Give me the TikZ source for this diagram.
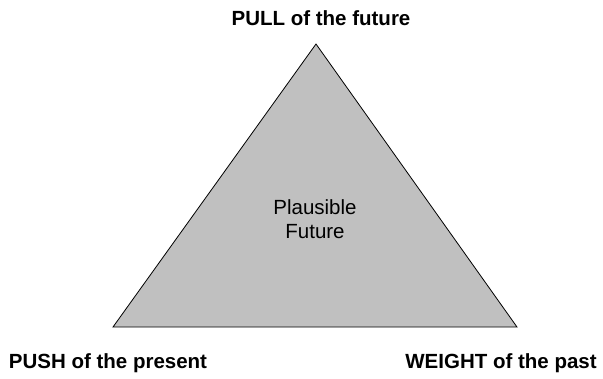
\documentclass[tikz,border=0pt]{standalone}
\usepackage{fontspec}
\setmainfont{Liberation Sans}
\usepackage{tikz}

\begin{document}
\begin{tikzpicture}[x=1pt,y=-1pt]

	\useasboundingbox (0,0) rectangle (603,378);

	\coordinate (top)   at (316, 44);
	\coordinate (left)  at (113, 327);
	\coordinate (right) at (517, 327);

	\draw[fill={rgb,255:red,192;green,192;blue,192}, line width=0.8pt, line join=miter] (top) -- (left) -- (right) -- cycle;

	\node[font=\fontsize{20.5}{24}\selectfont, align=center] (plausible) at (315, 219) {Plausible\\Future};

	\node[font=\fontsize{20.5}{24}\selectfont\bfseries] (pull)   at (321, 18)  {PULL of the future};
	\node[font=\fontsize{20.5}{24}\selectfont\bfseries] (push)   at (108, 363) {PUSH of the present};
	\node[font=\fontsize{20.5}{24}\selectfont\bfseries] (weight) at (501, 363) {WEIGHT of the past};

\end{tikzpicture}
\end{document}
